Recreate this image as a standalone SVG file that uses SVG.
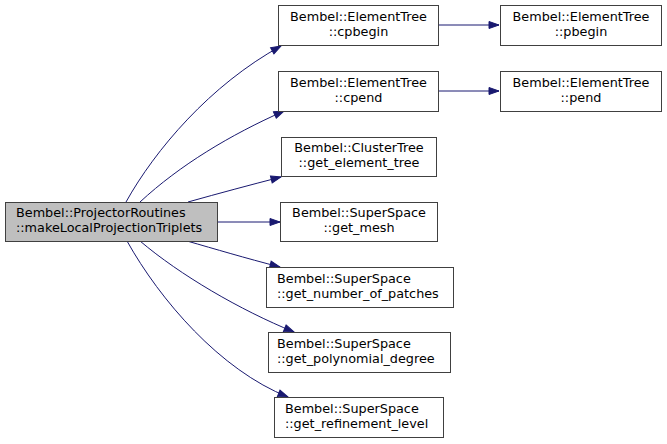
<svg xmlns="http://www.w3.org/2000/svg" width="667" height="444" viewBox="0 0 667 444">
<style>
.node rect{fill:#ffffff;stroke:#404040;stroke-width:1}
.root rect{fill:#bfbfbf}
text{font-family:"DejaVu Sans","Liberation Sans",sans-serif;font-size:12.8px;fill:#000}
.c{text-anchor:middle}
.edges path{fill:none;stroke:#191970;stroke-width:1;marker-end:url(#arr)}
</style>
<defs>
<marker id="arr" markerUnits="userSpaceOnUse" markerWidth="11" markerHeight="8" refX="10" refY="3.5" orient="auto" overflow="visible">
<path d="M0,0 L10,3.5 L0,7 Z" fill="#191970" stroke="#191970" stroke-width="1"/>
</marker>
</defs>
<rect width="667" height="444" fill="#ffffff"/>
<g class="edges" id="edges">
<path d="M126,202 C155,150 210,85 281,46"/>
<path d="M140,202 C180,165 230,135 284,111"/>
<path d="M188,202 C220,193 250,185 281,177"/>
<path d="M217,222 L280,222"/>
<path d="M187,241 C215,249 245,258 280,267"/>
<path d="M140,241 C180,275 240,310 294,332"/>
<path d="M127,241 C160,300 220,370 288,397"/>
<path d="M438,25 L499,25"/>
<path d="M438,91 L499,91"/>
</g>
<g class="node root" id="root">
<rect x="5.5" y="202.5" width="212" height="39"/>
<text x="16" y="217">Bembel::ProjectorRoutines</text>
<text x="16" y="232">::makeLocalProjectionTriplets</text>
</g>
<g class="node" id="cpbegin">
<rect x="278.5" y="5.5" width="160" height="40"/>
<text class="c" x="358.5" y="21">Bembel::ElementTree</text>
<text class="c" x="358.5" y="36">::cpbegin</text>
</g>
<g class="node" id="pbegin">
<rect x="500.5" y="5.5" width="161" height="40"/>
<text class="c" x="581" y="21">Bembel::ElementTree</text>
<text class="c" x="581" y="36">::pbegin</text>
</g>
<g class="node" id="cpend">
<rect x="278.5" y="71.5" width="160" height="40"/>
<text class="c" x="358.5" y="87">Bembel::ElementTree</text>
<text class="c" x="358.5" y="102">::cpend</text>
</g>
<g class="node" id="pend">
<rect x="500.5" y="71.5" width="161" height="40"/>
<text class="c" x="581" y="87">Bembel::ElementTree</text>
<text class="c" x="581" y="102">::pend</text>
</g>
<g class="node" id="get_element_tree">
<rect x="281.5" y="137.5" width="155" height="39"/>
<text class="c" x="359" y="152">Bembel::ClusterTree</text>
<text class="c" x="359" y="167">::get_element_tree</text>
</g>
<g class="node" id="get_mesh">
<rect x="280.5" y="202.5" width="157" height="39"/>
<text class="c" x="359" y="217">Bembel::SuperSpace</text>
<text class="c" x="359" y="232">::get_mesh</text>
</g>
<g class="node" id="get_number_of_patches">
<rect x="266.5" y="267.5" width="187" height="40"/>
<text x="277" y="283">Bembel::SuperSpace</text>
<text x="277" y="298">::get_number_of_patches</text>
</g>
<g class="node" id="get_polynomial_degree">
<rect x="268.5" y="332.5" width="182" height="40"/>
<text x="277" y="348">Bembel::SuperSpace</text>
<text x="277" y="363">::get_polynomial_degree</text>
</g>
<g class="node" id="get_refinement_level">
<rect x="274.5" y="397.5" width="169" height="40"/>
<text x="285" y="413">Bembel::SuperSpace</text>
<text x="285" y="428">::get_refinement_level</text>
</g>
</svg>
